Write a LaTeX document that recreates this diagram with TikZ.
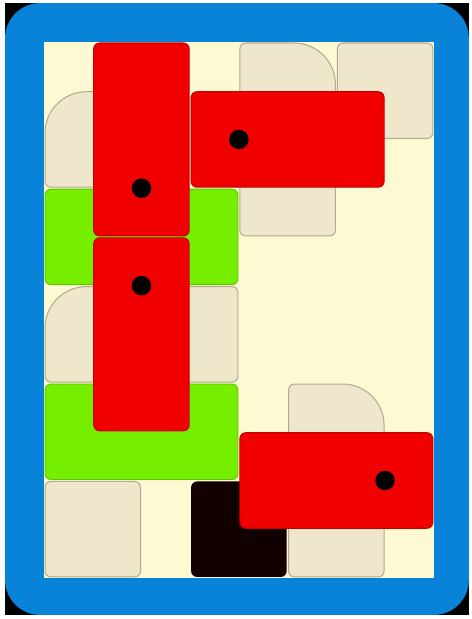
\documentclass[tikz,border=0pt]{standalone}
\usepackage{tikz}
\definecolor{frameblue}{RGB}{8,131,216}
\definecolor{boardcream}{RGB}{253,249,211}
\definecolor{tanfill}{RGB}{238,231,203}
\definecolor{tanline}{RGB}{180,170,142}
\definecolor{blockred}{RGB}{240,0,0}
\definecolor{blockedge}{RGB}{196,0,0}
\definecolor{slabgreen}{RGB}{118,238,0}
\definecolor{slabedge}{RGB}{92,196,0}
\definecolor{exitblack}{RGB}{18,0,0}

\tikzset{
  tile/.style={fill=tanfill, draw=tanline, line width=0.6pt},
  redblock/.style={fill=blockred, draw=blockedge, line width=0.6pt, rounded corners=0.12cm},
  slab/.style={fill=slabgreen, draw=slabedge, line width=0.5pt, rounded corners=0.12cm},
  hole/.style={fill=exitblack, rounded corners=0.12cm},
}

% tan tile with one big rounded corner: x1 y1 x2 y2
\newcommand{\archTL}[4]{%
  \draw[tile] (#1+0.12,#2) -- (#3-0.12,#2) arc[start angle=-90,end angle=0,radius=0.12]
    -- (#3,#4-0.12) arc[start angle=0,end angle=90,radius=0.12]
    -- (#1+0.85,#4) arc[start angle=90,end angle=180,radius=0.85]
    -- (#1,#2+0.12) arc[start angle=180,end angle=270,radius=0.12] -- cycle;}
\newcommand{\archTR}[4]{%
  \draw[tile] (#1+0.12,#2) -- (#3-0.12,#2) arc[start angle=-90,end angle=0,radius=0.12]
    -- (#3,#4-0.85) arc[start angle=0,end angle=90,radius=0.85]
    -- (#1+0.12,#4) arc[start angle=90,end angle=180,radius=0.12]
    -- (#1,#2+0.12) arc[start angle=180,end angle=270,radius=0.12] -- cycle;}

\begin{document}
\begin{tikzpicture}
    \useasboundingbox (-0.904,-0.843) rectangle (8.781,11.863);
    \fill[white]      (-0.904,-0.843) rectangle (8.781,11.863);
    \fill[black]      (-0.80,-0.76) rectangle (8.72,11.80);
    \fill[frameblue, rounded corners=0.72cm] (-0.80,-0.76) rectangle (8.72,11.80);
    \fill[boardcream] (0,0) rectangle (8,11);
    % fixed tiles
    \archTL{0.02}{8.02}{1.98}{9.98}
    \archTR{4.02}{7.02}{5.98}{10.98}
    \draw[tile, rounded corners=0.12cm] (6.02,9.02) rectangle (7.98,10.98);
    \archTL{0.02}{4.02}{3.98}{5.98}
    \draw[tile, rounded corners=0.12cm] (0.02,0.02) rectangle (1.98,1.98);
    \archTR{5.02}{0.02}{6.98}{3.98}
    % green slabs and exit
    \draw[slab] (0.02,6.02) rectangle (3.98,7.98);
    \draw[slab] (0.02,2.02) rectangle (3.98,3.98);
    \fill[hole] (3.02,0.02) rectangle (4.98,1.98);
    % red blocks
    \draw[redblock] (1.02,7.02) rectangle (2.98,10.98);
    \draw[redblock] (1.02,3.02) rectangle (2.98,6.98);
    \draw[redblock] (3.02,8.02) rectangle (6.98,9.98);
    \draw[redblock] (4.02,1.02) rectangle (7.98,2.98);
    \foreach \p in {(4,9),(2,8),(2,6),(7,2)}{
      \fill[black] \p circle (0.2);
    }
\end{tikzpicture}
\end{document}
